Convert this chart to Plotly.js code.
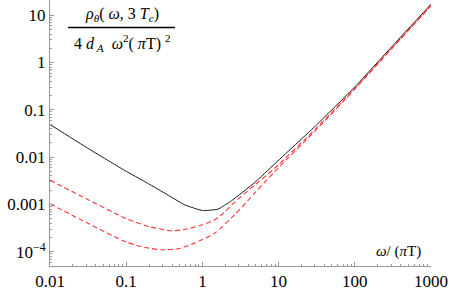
<!DOCTYPE html>
<html><head><meta charset="utf-8">
<script src="https://cdn.plot.ly/plotly-3.0.1.min.js"></script>
<style>html,body{margin:0;padding:0;background:#fff}#chart{width:453px;height:294px}</style>
</head><body><div id="chart"></div>
<script>
// x values (omega / (pi T)) and spectral function values
const blackX = [0.01, 0.0316, 0.1, 0.175, 0.32, 0.586, 1.0, 1.6, 2.4, 4.86, 8.9, 31.6, 100, 316, 1000];
const blackY = [0.049, 0.0153, 0.0050, 0.00305, 0.00173, 0.00098, 0.000743, 0.000794, 0.00119, 0.0029, 0.00721, 0.0482, 0.305, 2.29, 17.1];

const redUpperX = [0.01, 0.0316, 0.1, 0.2, 0.398, 0.631, 1.0, 1.45, 2.0, 2.65, 4.86, 8.91, 31.6, 100, 316, 1000];
const redUpperY = [0.00327, 0.00126, 0.000501, 0.000339, 0.000277, 0.000302, 0.000371, 0.000472, 0.000708, 0.00112, 0.00257, 0.00585, 0.0417, 0.282, 2.14, 16.2];

const redLowerX = [0.01, 0.0316, 0.1, 0.178, 0.288, 0.5, 0.79, 1.45, 2.65, 4.86, 8.91, 31.6, 100, 316, 1000];
const redLowerY = [0.00103, 0.000398, 0.00016, 0.000123, 0.00011, 0.000117, 0.000152, 0.000247, 0.000603, 0.00173, 0.00497, 0.0389, 0.275, 2.09, 15.8];

const xTickVals = [0.01, 0.1, 1, 10, 100, 1000];
const xTickText = ['0.01', '0.1', '1', '10', '100', '1000'];
const yTickVals = [1e-4, 1e-3, 1e-2, 0.1, 1, 10];
const yTickText = ['10<sup>\u22124</sup>', '0.001', '0.01', '0.1', '1', '10'];

function minorVals(lo, hi) {
  const v = [];
  for (let e = lo; e <= hi; e++) for (let m = 2; m <= 9; m++) v.push(m * Math.pow(10, e));
  return v;
}

const axisColor = '#999999';
const serif = '"Liberation Serif", "DejaVu Serif", serif';

const traces = [
  {x: blackX, y: blackY, mode: 'lines', line: {color: '#1a1a1a', width: 1, shape: 'spline', smoothing: 0.4}, hoverinfo: 'skip'},
  {x: redUpperX, y: redUpperY, mode: 'lines', line: {color: '#ff3333', width: 1.1, dash: '5px,3px', shape: 'spline', smoothing: 0.6}, hoverinfo: 'skip'},
  {x: redLowerX, y: redLowerY, mode: 'lines', line: {color: '#ff3333', width: 1.1, dash: '5px,3px', shape: 'spline', smoothing: 0.6}, hoverinfo: 'skip'}
];

const layout = {
  width: 453, height: 294,
  margin: {l: 50, r: 22, t: 0, b: 28, pad: 0},
  paper_bgcolor: '#fff', plot_bgcolor: '#fff',
  showlegend: false,
  font: {family: serif, color: '#000'},
  xaxis: {
    type: 'log', range: [-2, 3],
    showgrid: false, zeroline: false,
    showline: true, linecolor: axisColor, linewidth: 1,
    ticks: 'inside', ticklen: 4, tickcolor: axisColor, tickwidth: 1,
    tickmode: 'array', tickvals: xTickVals, ticktext: xTickText,
    tickfont: {family: serif, size: 17, color: '#000'},
    minor: {ticks: 'inside', ticklen: 2, tickcolor: axisColor, tickmode: 'array', tickvals: minorVals(-2, 2), showgrid: false}
  },
  yaxis: {
    type: 'log', range: [-4.302, 1.322],
    showgrid: false, zeroline: false,
    showline: true, linecolor: axisColor, linewidth: 1,
    ticks: 'inside', ticklen: 4, tickcolor: axisColor, tickwidth: 1,
    tickmode: 'array', tickvals: yTickVals, ticktext: yTickText,
    tickfont: {family: serif, size: 17, color: '#000'},
    minor: {ticks: 'inside', ticklen: 2, tickcolor: axisColor, tickmode: 'array', tickvals: minorVals(-5, 1), showgrid: false}
  },
  annotations: [
    {xref: 'paper', yref: 'paper', x: 0.189, y: 0.944, xanchor: 'center', yanchor: 'middle', showarrow: false,
     text: '<i>ρ</i><sub><i>θ</i></sub>( <i>ω</i>, 3 <i>T</i><sub><i>c</i></sub>)', font: {family: serif, size: 16, color: '#000'}},
    {xref: 'paper', yref: 'paper', x: 0.189, y: 0.838, xanchor: 'center', yanchor: 'middle', showarrow: false,
     text: '4 <i>d</i><sub> <i>A</i></sub>  <i>ω</i><sup>2</sup>( <i>π</i>T) <sup>2</sup>', font: {family: serif, size: 16, color: '#000'}},
    {xref: 'paper', yref: 'paper', x: 0.916, y: 0.056, xanchor: 'center', yanchor: 'middle', showarrow: false,
     text: '<i>ω</i>/ (<i>π</i>T)', font: {family: serif, size: 15, color: '#000'}}
  ],
  shapes: [
    {type: 'line', xref: 'paper', yref: 'paper', x0: 0.047, x1: 0.328, y0: 0.897, y1: 0.897, line: {color: '#000', width: 1.5}}
  ]
};

Plotly.newPlot('chart', traces, layout, {displayModeBar: false, staticPlot: true});
</script></body></html>
